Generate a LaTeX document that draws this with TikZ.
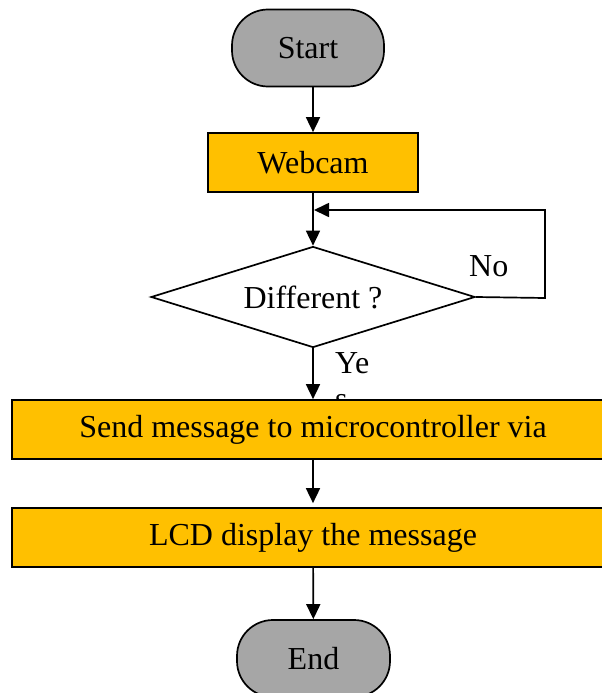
\documentclass[tikz,border=0pt]{standalone}
\usepackage{fontspec}
\setmainfont{Liberation Serif}
\usepackage{tikz}
\usetikzlibrary{shapes.geometric, arrows.meta, positioning, calc}
\definecolor{boxgold}{RGB}{255, 192, 0}
\definecolor{termgray}{RGB}{166, 166, 166}

\begin{document}
\begin{tikzpicture}[x=1pt, y=-1pt,
  font=\fontsize{32}{36}\selectfont,
  term/.style={rectangle, rounded corners=36pt, draw, line width=1.7pt, fill=termgray, minimum width=152pt, minimum height=77pt, inner sep=0pt},
  procbox/.style={rectangle, draw, line width=1.7pt, fill=boxgold, minimum height=59pt, inner sep=0pt},
  decide/.style={diamond, aspect=3.2, draw, line width=1.7pt, fill=white, minimum width=324pt, minimum height=101pt, inner sep=0pt},
  arr/.style={-{Triangle[length=15pt, width=14pt]}, line width=1.7pt},
  lbl/.style={inner sep=0pt}]
\useasboundingbox (0,0) rectangle (602,693);
\clip (0,0) rectangle (602,693);
\node[term] (start) at (308,48) {Start};
\node[procbox, minimum width=210pt] (web) at (313,162.5) {Webcam};
\node[decide] (dif) at (313,297) {Different ?};
\node[lbl, anchor=base west] (no) at (469,276) {No};
\node[lbl, anchor=north west, align=left] (yes) at (335,352) {Ye\\s};
\node[procbox, minimum width=602pt] (send) at (313,429.5) {Send message to microcontroller via};
\node[procbox, minimum width=602pt] (lcd) at (313,537.5) {LCD display the message};
\node[term, minimum width=153pt] (end) at (313.5,658.5) {End};
\coordinate (loopR) at (545,298);
\coordinate (loopIn) at (314,210);
\draw[arr] (web.north |- start.south) -- (web.north);
\draw[arr] (web) -- (dif);
\draw[arr] (dif.east) -- (loopR) |- (loopIn);
\draw[arr] (dif) -- (send);
\draw[arr] (send) -- ($(lcd.north)+(0,-4)$);
\draw[arr] (lcd) -- (end);
\end{tikzpicture}
\end{document}
